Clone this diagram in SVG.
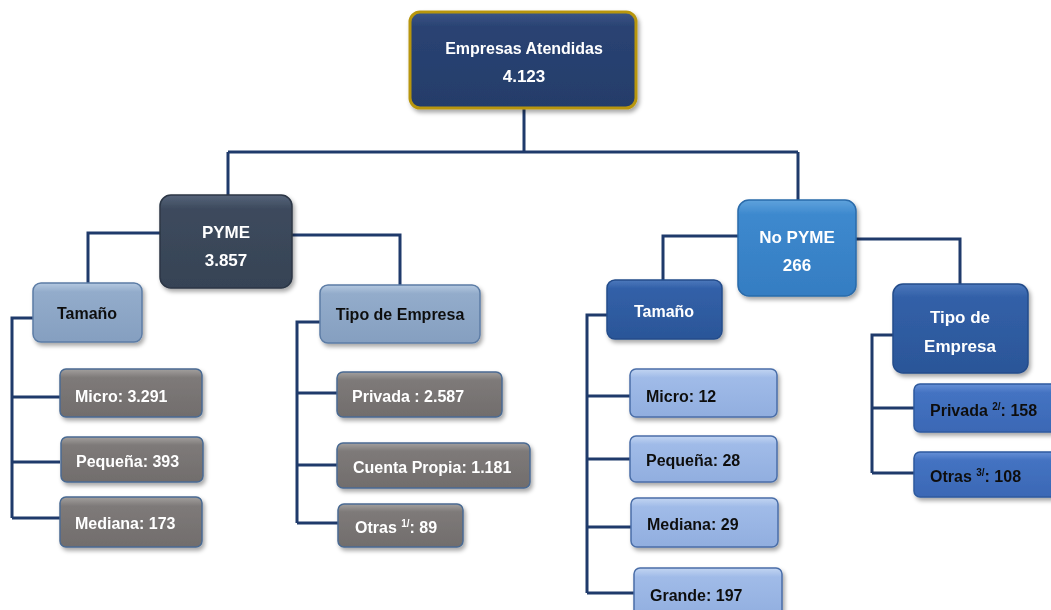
<svg xmlns="http://www.w3.org/2000/svg" width="1051" height="610" viewBox="0 0 1051 610">
<defs>
<filter id="sh" x="-10%" y="-10%" width="125%" height="135%"><feDropShadow dx="2" dy="3" stdDeviation="2" flood-color="#000" flood-opacity="0.35"/></filter>
<linearGradient id="gTop" x1="0" y1="0" x2="0" y2="1"><stop offset="0" stop-color="#3B5587"/><stop offset="0.15" stop-color="#2A4373"/><stop offset="1" stop-color="#243D6A"/></linearGradient>
<linearGradient id="gPyme" x1="0" y1="0" x2="0" y2="1"><stop offset="0" stop-color="#56647A"/><stop offset="0.15" stop-color="#3D4A5D"/><stop offset="1" stop-color="#364355"/></linearGradient>
<linearGradient id="gSteel" x1="0" y1="0" x2="0" y2="1"><stop offset="0" stop-color="#B4C8E0"/><stop offset="0.15" stop-color="#93ACCB"/><stop offset="1" stop-color="#859FC0"/></linearGradient>
<linearGradient id="gGray" x1="0" y1="0" x2="0" y2="1"><stop offset="0" stop-color="#A3A09E"/><stop offset="0.18" stop-color="#7E7A79"/><stop offset="1" stop-color="#716D6C"/></linearGradient>
<linearGradient id="gNo" x1="0" y1="0" x2="0" y2="1"><stop offset="0" stop-color="#5FA2DC"/><stop offset="0.15" stop-color="#3D89CE"/><stop offset="1" stop-color="#357DC2"/></linearGradient>
<linearGradient id="gDark" x1="0" y1="0" x2="0" y2="1"><stop offset="0" stop-color="#4C78BC"/><stop offset="0.15" stop-color="#3260A8"/><stop offset="1" stop-color="#2B5698"/></linearGradient>
<linearGradient id="gLight" x1="0" y1="0" x2="0" y2="1"><stop offset="0" stop-color="#C2D5F2"/><stop offset="0.18" stop-color="#A0BBE8"/><stop offset="1" stop-color="#91AEDF"/></linearGradient>
<linearGradient id="gMid" x1="0" y1="0" x2="0" y2="1"><stop offset="0" stop-color="#6790D6"/><stop offset="0.18" stop-color="#4473C2"/><stop offset="1" stop-color="#3B68B5"/></linearGradient>
</defs>
<style>
.t{font-family:"Liberation Sans",Arial,sans-serif;font-weight:bold;font-size:16px}
.w{fill:#fff}
.k{fill:#111}
.c{text-anchor:middle}
.sup{font-size:10px}
.con{fill:none;stroke:#1F3A6B;stroke-width:3}
.box{filter:url(#sh)}
</style>
<g id="connectors">
<path class="con" d="M524,108 V152 M228,152 H798 M228,152 V195 M798,152 V200"/>
<path class="con" d="M160,233 H88 V284 M292,235 H400 V286"/>
<path class="con" d="M35,318 H12 V518 M12,397 H60 M12,462 H60 M12,518 H60"/>
<path class="con" d="M320,322 H297 V523 M297,393 H337 M297,465 H337 M297,523 H338"/>
<path class="con" d="M738,236 H663 V280 M856,239 H960 V284"/>
<path class="con" d="M607,315 H587 V593 M587,396 H630 M587,459 H630 M587,527 H631 M587,593 H634"/>
<path class="con" d="M893,335 H872 V473 M872,408 H914 M872,473 H914"/>
</g>
<g id="n-top" class="box"><rect x="410" y="12" width="226" height="96" rx="10" fill="url(#gTop)" stroke="#B8960E" stroke-width="3"/><text class="t w c" x="524" y="54" style="font-size:16px">Empresas Atendidas</text><text class="t w c" x="524" y="82" style="font-size:17px">4.123</text></g>
<g id="n-pyme" class="box"><rect x="160" y="195" width="132" height="93" rx="11" fill="url(#gPyme)" stroke="#2C3645" stroke-width="1.5"/><text class="t w c" x="226" y="238" style="font-size:17px">PYME</text><text class="t w c" x="226" y="266" style="font-size:17px">3.857</text></g>
<g id="n-nopyme" class="box"><rect x="738" y="200" width="118" height="96" rx="11" fill="url(#gNo)" stroke="#2A6BAA" stroke-width="1.5"/><text class="t w c" x="797" y="243" style="font-size:17px">No PYME</text><text class="t w c" x="797" y="271" style="font-size:17px">266</text></g>
<g id="n-tam-l" class="box"><rect x="33" y="283" width="109" height="59" rx="8" fill="url(#gSteel)" stroke="#5C7CA5" stroke-width="1.5"/><text class="t k c" x="87" y="319" style="font-size:16px">Tamaño</text></g>
<g id="n-tipo-l" class="box"><rect x="320" y="285" width="160" height="58" rx="8" fill="url(#gSteel)" stroke="#5C7CA5" stroke-width="1.5"/><text class="t k c" x="400" y="320" style="font-size:16px">Tipo de Empresa</text></g>
<g id="n-micro-l" class="box"><rect x="60" y="369" width="142" height="48" rx="6" fill="url(#gGray)" stroke="#4A6A92" stroke-width="1.5"/><text class="t w" x="75" y="402">Micro: 3.291</text></g>
<g id="n-peq-l" class="box"><rect x="61" y="437" width="142" height="45" rx="6" fill="url(#gGray)" stroke="#4A6A92" stroke-width="1.5"/><text class="t w" x="76" y="467">Pequeña: 393</text></g>
<g id="n-med-l" class="box"><rect x="60" y="497" width="142" height="50" rx="6" fill="url(#gGray)" stroke="#4A6A92" stroke-width="1.5"/><text class="t w" x="75" y="529">Mediana: 173</text></g>
<g id="n-priv-l" class="box"><rect x="337" y="372" width="165" height="45" rx="6" fill="url(#gGray)" stroke="#4A6A92" stroke-width="1.5"/><text class="t w" x="352" y="402">Privada : 2.587</text></g>
<g id="n-cta-l" class="box"><rect x="337" y="443" width="193" height="45" rx="6" fill="url(#gGray)" stroke="#4A6A92" stroke-width="1.5"/><text class="t w" x="353" y="473">Cuenta Propia: 1.181</text></g>
<g id="n-otras-l" class="box"><rect x="338" y="504" width="125" height="43" rx="6" fill="url(#gGray)" stroke="#4A6A92" stroke-width="1.5"/><text class="t w" x="355" y="533">Otras <tspan class="sup" dy="-6">1/</tspan><tspan dy="6">: 89</tspan></text></g>
<g id="n-tam-r" class="box"><rect x="607" y="280" width="115" height="59" rx="8" fill="url(#gDark)" stroke="#244C8A" stroke-width="1.5"/><text class="t w c" x="664" y="317" style="font-size:16px">Tamaño</text></g>
<g id="n-tipo-r" class="box"><rect x="893" y="284" width="135" height="89" rx="10" fill="url(#gDark)" stroke="#244C8A" stroke-width="1.5"/><text class="t w c" x="960" y="323" style="font-size:17px">Tipo de</text><text class="t w c" x="960" y="352" style="font-size:17px">Empresa</text></g>
<g id="n-micro-r" class="box"><rect x="630" y="369" width="147" height="48" rx="6" fill="url(#gLight)" stroke="#4A6EA8" stroke-width="1.5"/><text class="t k" x="646" y="402">Micro: 12</text></g>
<g id="n-peq-r" class="box"><rect x="630" y="436" width="147" height="46" rx="6" fill="url(#gLight)" stroke="#4A6EA8" stroke-width="1.5"/><text class="t k" x="646" y="466">Pequeña: 28</text></g>
<g id="n-med-r" class="box"><rect x="631" y="498" width="147" height="49" rx="6" fill="url(#gLight)" stroke="#4A6EA8" stroke-width="1.5"/><text class="t k" x="647" y="530">Mediana: 29</text></g>
<g id="n-gra-r" class="box"><rect x="634" y="568" width="148" height="50" rx="6" fill="url(#gLight)" stroke="#4A6EA8" stroke-width="1.5"/><text class="t k" x="650" y="601">Grande: 197</text></g>
<g id="n-priv-r" class="box"><rect x="914" y="384" width="145" height="48" rx="6" fill="url(#gMid)" stroke="#2E5A9E" stroke-width="1.5"/><text class="t k" x="930" y="416">Privada <tspan class="sup" dy="-6">2/</tspan><tspan dy="6">: 158</tspan></text></g>
<g id="n-otras-r" class="box"><rect x="914" y="452" width="145" height="45" rx="6" fill="url(#gMid)" stroke="#2E5A9E" stroke-width="1.5"/><text class="t k" x="930" y="482">Otras <tspan class="sup" dy="-6">3/</tspan><tspan dy="6">: 108</tspan></text></g>
</svg>
